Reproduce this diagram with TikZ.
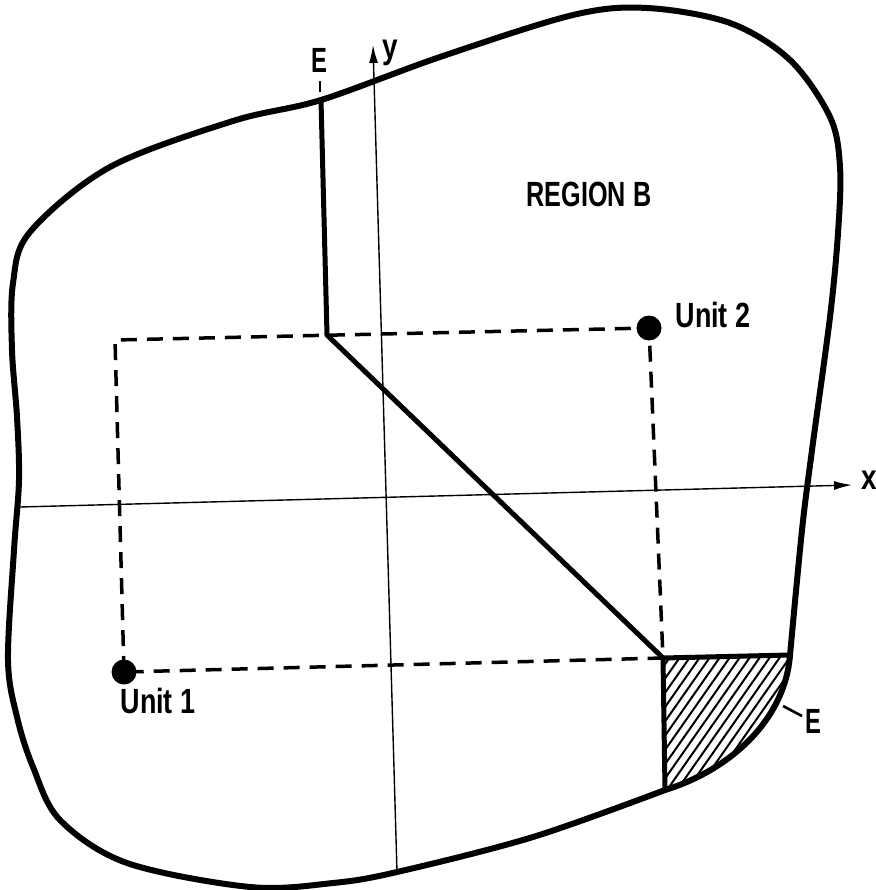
\documentclass[tikz,border=0pt]{standalone}
\usepackage{graphicx}
\usepackage{fontspec}
\setmainfont{Liberation Sans}
\usetikzlibrary{arrows.meta}
\newcommand\narrowtxt[2]{\scalebox{#1}[1]{#2}}
\tikzset{
  bound/.style={line width=6pt, line join=round, line cap=round},
  eline/.style={line width=5pt, line join=round, line cap=round},
  dashline/.style={line width=3.5pt, dash pattern=on 16pt off 10pt},
  axis/.style={line width=1.4pt, -{Latex[length=18pt,width=9pt]}},
  hatchline/.style={line width=2pt},
  tickline/.style={line width=2.6pt},
  lbl/.style={inner sep=0pt, font=\fontsize{35}{38}\selectfont\bfseries},
  unitdot/.style={circle, fill=black, minimum size=25pt, inner sep=0pt}
}
\begin{document}
\begin{tikzpicture}[x=1pt,y=-1pt]
\useasboundingbox (0,0) rectangle (875,890);
% key points
\coordinate (Etop) at (321,100);
\coordinate (J) at (327,335);
\coordinate (C) at (663,658);
\coordinate (R) at (790,655);
\coordinate (Bj) at (665,790);
\coordinate (TL) at (115,340);
\coordinate (Ybot) at (397,872);
\coordinate (Ytop) at (373,45);
\coordinate (Xl) at (20,507);
\coordinate (Xr) at (852,485);
% hatching
\begin{scope}
  \clip (C) -- (R) .. controls (785,720) and (730,770) .. (Bj) -- cycle;
  \foreach \k in {550,560,...,800} \draw[hatchline] (\k,800) -- ++(140,-200);
\end{scope}
% axes
\draw[axis] (Ybot) -- (Ytop);
\draw[axis] (Xl) -- (Xr);
% dashed rectangle
\node[unitdot] (U1) at (124,672) {};
\node[unitdot] (U2) at (649,328) {};
\draw[dashline] (U1.center) -- (TL) -- (U2.center) -- (C) -- (U1.center);
% boundary
\draw[bound] plot[smooth, tension=0.55] coordinates {
 (665,790) (533,837) (397,872) (333,883) (250,887) (127,863) (60,820)
 (33,767) (17,717) (8,660) (14,550) (19,480) (17,417) (12,350) (13,283)
 (30,232) (110,167) (233,121) (321,100) (440,57)
 (573,15) (647,8) (730,23) (790,60) (830,117) (840,167)
 (838,233) (830,317) (812,450) (802,530) (790,655)};
\draw[bound] (R) .. controls (785,720) and (730,770) .. (Bj);
% E line and shaded box edges
\draw[eline] (Etop) -- (J) -- (C) -- (R);
\draw[eline] (C) -- (Bj);
% ticks
\coordinate (t1a) at (320,81);
\coordinate (t1b) at (320,92);
\draw[tickline] (t1a) -- (t1b);
\coordinate (t2a) at (783,706);
\coordinate (t2b) at (802,716);
\draw[tickline] (t2a) -- (t2b);
% labels
\node[lbl] (Elab1) at (319,60) {\narrowtxt{0.68}{E}};
\node[lbl] (Elab2) at (813,721) {\narrowtxt{0.68}{E}};
\node[lbl] (ylab) at (390,53) {\narrowtxt{0.8}{y}};
\node[lbl] (xlab) at (869,480) {\narrowtxt{0.8}{x}};
\node[lbl] (reg) at (589,194) {\narrowtxt{0.72}{REGION B}};
\node[lbl] (u1lab) at (158,701) {\narrowtxt{0.77}{Unit 1}};
\node[lbl] (u2lab) at (713,315) {\narrowtxt{0.77}{Unit 2}};
\end{tikzpicture}
\end{document}
